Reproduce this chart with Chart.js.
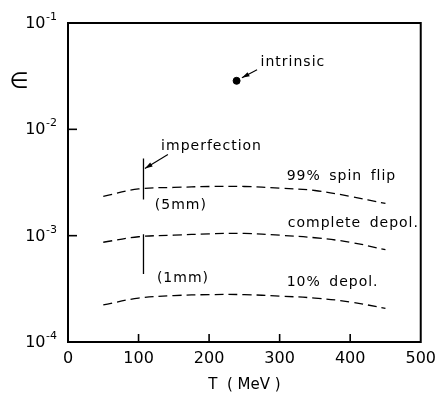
<!DOCTYPE html>
<html>
<head>
<meta charset="utf-8">
<script src="https://cdn.jsdelivr.net/npm/chart.js@4/dist/chart.umd.min.js"></script>
<style>
html,body{margin:0;padding:0;background:#fff;}
#wrap{width:443px;height:397px;}
</style>
</head>
<body>
<div id="wrap"><canvas id="c" width="443" height="397"></canvas></div>
<script>
// ---- data ----
const T = [50, 100, 150, 200, 250, 300, 350, 400, 450];           // MeV
const spinFlip99    = [2.34e-3, 2.75e-3, 2.84e-3, 2.90e-3, 2.90e-3, 2.80e-3, 2.66e-3, 2.34e-3, 2.01e-3];
const completeDepol = [8.67e-4, 9.77e-4, 1.01e-3, 1.04e-3, 1.05e-3, 1.01e-3, 9.56e-4, 8.67e-4, 7.38e-4];
const depol10       = [2.23e-4, 2.59e-4, 2.73e-4, 2.79e-4, 2.79e-4, 2.70e-4, 2.59e-4, 2.38e-4, 2.07e-4];
const imperfT = [107, 107];
const imperf5mm = [5.31e-3, 2.19e-3];
const imperf1mm = [1.03e-3, 4.35e-4];
const intrinsicT = [239];
const intrinsicEps = [2.86e-2];
const xTicks = [0, 100, 200, 300, 400, 500];
const yTicks = [1e-4, 1e-3, 1e-2, 1e-1];
const yTickBase = '10';
const yTickExp = ['-4', '-3', '-2', '-1'];
const noteTexts = ['intrinsic', 'imperfection', '99% spin flip', '(5mm)', 'complete depol.', '(1mm)', '10% depol.'];
const noteT     = [273, 132, 310, 123, 311.6, 126, 310];
const noteEps   = [0.0431, 6.89e-3, 3.60e-3, 1.93e-3, 1.31e-3, 3.99e-4, 3.66e-4];
const arrowFromT = [268, 141.6], arrowFromEps = [0.0363, 5.79e-3];
const arrowToT   = [246.5, 109], arrowToEps  = [0.0305, 4.28e-3];

const pts = (xs, ys) => ys.map((y, i) => ({x: xs[i], y}));
const FONT = 'DejaVu Sans';

const dashed = {borderColor: '#000', borderWidth: 1.3, borderDash: [9, 5], pointRadius: 0, tension: 0.4, fill: false, showLine: true};
const solid  = {borderColor: '#000', borderWidth: 1.3, pointRadius: 0, tension: 0, fill: false, showLine: true};

const framePlugin = {
  id: 'frame',
  afterDraw(chart) {
    const ctx = chart.ctx, a = chart.chartArea;
    const xs = chart.scales.x, ys = chart.scales.y;
    ctx.save();
    ctx.strokeStyle = '#000';
    ctx.fillStyle = '#000';
    ctx.lineWidth = 2;
    ctx.strokeRect(a.left, a.top, a.right - a.left, a.bottom - a.top);
    ctx.lineWidth = 1.6;
    // inward ticks
    yTicks.forEach(v => {
      if (v === yTicks[0] || v === yTicks[yTicks.length - 1]) return;
      const py = ys.getPixelForValue(v);
      ctx.beginPath(); ctx.moveTo(a.left, py); ctx.lineTo(a.left + 9, py); ctx.stroke();
    });
    xTicks.forEach(v => {
      if (v === xTicks[0] || v === xTicks[xTicks.length - 1]) return;
      const px = xs.getPixelForValue(v);
      ctx.beginPath(); ctx.moveTo(px, a.bottom); ctx.lineTo(px, a.bottom - 8); ctx.stroke();
    });
    // y tick labels: 10 with raised exponent
    ctx.textBaseline = 'middle';
    yTicks.forEach((v, i) => {
      const py = ys.getPixelForValue(v);
      const right = a.left - 11;
      ctx.font = '11px "' + FONT + '"';
      ctx.textAlign = 'right';
      const ew = ctx.measureText(yTickExp[i]).width;
      ctx.fillText(yTickExp[i], right, py - 6);
      ctx.font = '16px "' + FONT + '"';
      ctx.fillText(yTickBase, right - ew - 0.5, py + 1);
    });
    // annotations
    ctx.font = '14px "' + FONT + '"';
    ctx.textBaseline = 'middle';
    ctx.textAlign = 'left';
    try { ctx.letterSpacing = '1px'; ctx.wordSpacing = '3px'; } catch (e) {}
    noteTexts.forEach((t, i) => {
      ctx.fillText(t, xs.getPixelForValue(noteT[i]), ys.getPixelForValue(noteEps[i]));
    });
    try { ctx.letterSpacing = '0px'; ctx.wordSpacing = '0px'; } catch (e) {}
    // arrows
    ctx.lineWidth = 1.1;
    arrowFromT.forEach((_, i) => {
      const x0 = xs.getPixelForValue(arrowFromT[i]), y0 = ys.getPixelForValue(arrowFromEps[i]);
      const x1 = xs.getPixelForValue(arrowToT[i]), y1 = ys.getPixelForValue(arrowToEps[i]);
      ctx.beginPath(); ctx.moveTo(x0, y0); ctx.lineTo(x1, y1); ctx.stroke();
      const ang = Math.atan2(y1 - y0, x1 - x0), L = 8, w = 0.3;
      ctx.beginPath();
      ctx.moveTo(x1, y1);
      ctx.lineTo(x1 - L * Math.cos(ang - w), y1 - L * Math.sin(ang - w));
      ctx.lineTo(x1 - L * Math.cos(ang + w), y1 - L * Math.sin(ang + w));
      ctx.closePath(); ctx.fill();
    });
    // y axis symbol
    ctx.font = '22px "' + FONT + '"';
    ctx.textAlign = 'center';
    ctx.fillText('\u2208', 19, ys.getPixelForValue(intrinsicEps[0]) + 1);
    ctx.restore();
  }
};

new Chart(document.getElementById('c'), {
  type: 'scatter',
  data: {
    datasets: [
      Object.assign({label: '99% spin flip', data: pts(T, spinFlip99)}, dashed),
      Object.assign({label: 'complete depol.', data: pts(T, completeDepol)}, dashed),
      Object.assign({label: '10% depol.', data: pts(T, depol10)}, dashed),
      Object.assign({label: 'imperfection (5mm)', data: pts(imperfT, imperf5mm)}, solid),
      Object.assign({label: 'imperfection (1mm)', data: pts(imperfT, imperf1mm)}, solid),
      {label: 'intrinsic', data: pts(intrinsicT, intrinsicEps), showLine: false, pointRadius: 3.5, pointBackgroundColor: '#000', pointBorderColor: '#000'}
    ]
  },
  options: {
    responsive: false,
    animation: false,
    layout: {padding: {top: 23, right: 22, left: 0, bottom: 0}},
    plugins: {legend: {display: false}, tooltip: {enabled: false}},
    scales: {
      x: {
        type: 'linear', min: 0, max: 500,
        afterBuildTicks: s => { s.ticks = xTicks.map(v => ({value: v})); },
        afterFit: s => { s.height = 55; },
        grid: {display: false, drawTicks: false},
        border: {display: true, color: '#000', width: 2},
        ticks: {color: '#000', font: {family: FONT, size: 16}, padding: 7, maxRotation: 0, callback: v => String(v)},
        title: {display: true, text: 'T  ( MeV )', color: '#000', font: {family: FONT, size: 15}, padding: {top: 0, bottom: 3}}
      },
      y: {
        type: 'logarithmic', min: 1e-4, max: 1e-1,
        afterBuildTicks: s => { s.ticks = yTicks.map(v => ({value: v})); },
        afterFit: s => { s.width = 68; },
        grid: {display: false, drawTicks: false},
        border: {display: true, color: '#000', width: 2},
        ticks: {display: false}
      }
    }
  },
  plugins: [framePlugin]
});
</script>
</body>
</html>
